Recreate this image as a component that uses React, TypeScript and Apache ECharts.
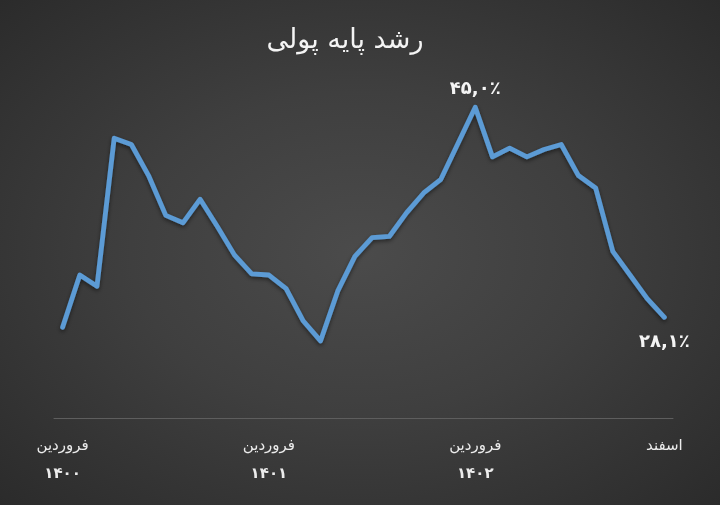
import React, { useEffect, useRef } from "react";
import * as echarts from "echarts";

const months = ["فروردین", "اردیبهشت", "خرداد", "تیر", "مرداد", "شهریور", "مهر", "آبان", "آذر", "دی", "بهمن", "اسفند"];
const years = ["۱۴۰۰", "۱۴۰۱", "۱۴۰۲"];
const categories: string[] = years.flatMap((y) => months.map((m) => m + " " + y));

const growth = [
  27.3, 31.5, 30.6, 42.5, 42.0, 39.5, 36.3, 35.7, 37.6, 35.4, 33.1, 31.6,
  31.5, 30.4, 27.8, 26.2, 30.2, 33.0, 34.5, 34.6, 36.5, 38.1, 39.2, 42.1,
  45.0, 41.0, 41.7, 41.0, 41.6, 42.0, 39.5, 38.5, 33.4, 31.5, 29.6, 28.1,
];

const tickIndices = [0, 12, 24, 35];
const tickLabels = ["فروردین\n{y|۱۴۰۰}", "فروردین\n{y|۱۴۰۱}", "فروردین\n{y|۱۴۰۲}", "اسفند"];

const labelIndices = [24, 35];
const labelTexts = ["۴۵,۰٪", "۲۸,۱٪"];
const labelPositions = ["top", "bottom"];

const TITLE = "رشد پایه پولی";
const FONT = "DejaVu Sans";

export default function App() {
  const ref = useRef<HTMLDivElement>(null);
  useEffect(() => {
    if (!ref.current) return;
    const chart = echarts.init(ref.current, undefined, { renderer: "svg" });
    const data = growth.map((v, i) => {
      const li = labelIndices.indexOf(i);
      if (li < 0) return v;
      return {
        value: v,
        label: {
          show: true,
          position: labelPositions[li],
          distance: labelPositions[li] === "top" ? 10 : 14,
          formatter: () => labelTexts[li],
          color: "#f4f4f4",
          fontSize: 18,
          fontWeight: "bold",
          fontFamily: FONT,
        },
      };
    });
    chart.setOption({
      animation: false,
      backgroundColor: "transparent",
      graphic: [
        {
          type: "text",
          x: 345,
          y: 38,
          style: {
            text: TITLE,
            align: "center",
            verticalAlign: "middle",
            fontSize: 27,
            fontFamily: FONT,
            fill: "#f4f4f4",
          },
        },
      ],
      grid: { left: 54, right: 47, top: 45, bottom: 87 },
      xAxis: {
        type: "category",
        data: categories,
        boundaryGap: true,
        axisLine: { show: true, lineStyle: { color: "#5e5e5e", width: 1 } },
        axisTick: { show: false },
        axisLabel: {
          interval: (i: number) => tickIndices.includes(i),
          formatter: (_v: string, i: number) => {
            const k = tickIndices.indexOf(i);
            return k >= 0 ? tickLabels[k] : "";
          },
          color: "#ececec",
          fontSize: 15,
          fontFamily: FONT,
          lineHeight: 28,
          margin: 13,
          rich: {
            y: { fontSize: 15, fontWeight: "bold", fontFamily: FONT, color: "#ececec", lineHeight: 28 },
          },
        },
      },
      yAxis: {
        type: "value",
        min: 20,
        max: 50,
        show: false,
        splitLine: { show: false },
      },
      series: [
        {
          type: "line",
          data,
          symbol: "circle",
          symbolSize: 1,
          showSymbol: true,
          itemStyle: { color: "rgba(0,0,0,0)" },
          lineStyle: {
            color: "#5b9bd5",
            width: 4.8,
            cap: "round",
            join: "round",
            shadowColor: "rgba(0,0,0,0.5)",
            shadowBlur: 4,
            shadowOffsetY: 2,
          },
        },
      ],
    });
    return () => chart.dispose();
  }, []);
  return (
    <div
      ref={ref}
      style={{
        position: "fixed",
        top: 0,
        left: 0,
        width: 720,
        height: 505,
        background: "radial-gradient(ellipse at 50% 50%, #4b4b4b 0%, #3f3f3f 45%, #2b2b2b 100%)",
      }}
    />
  );
}
